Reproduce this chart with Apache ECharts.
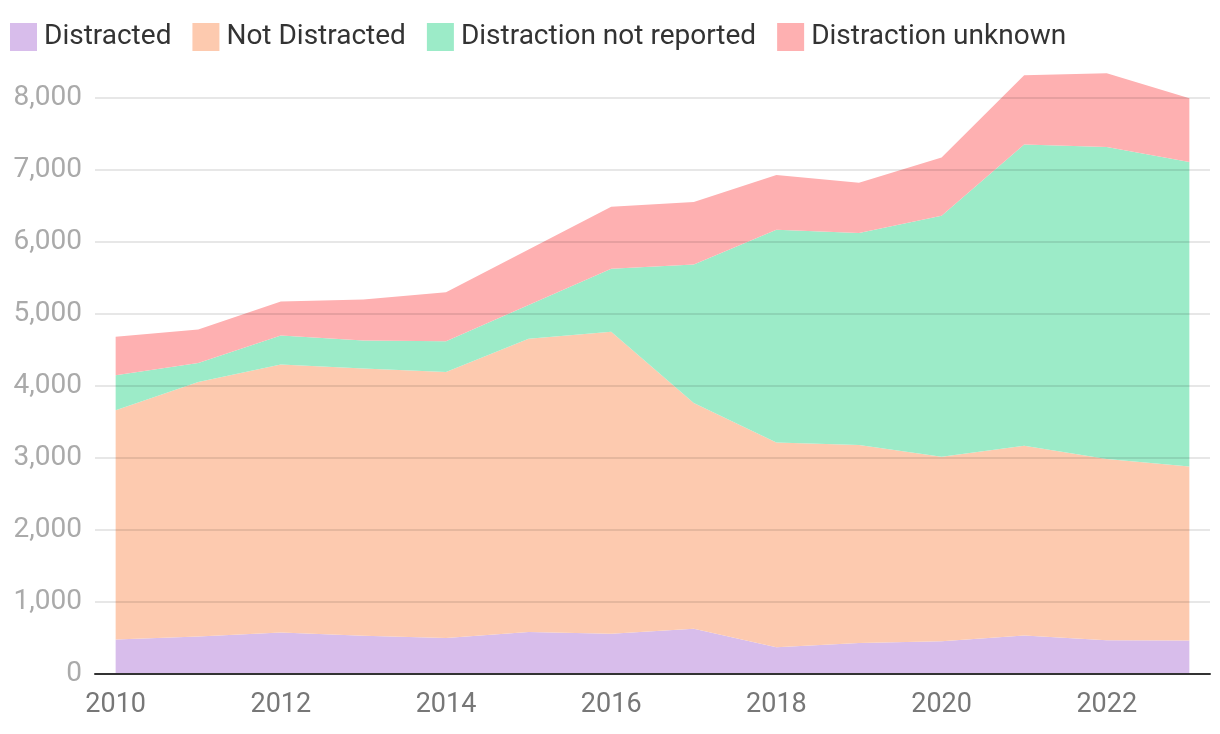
<!DOCTYPE html>
<html>
<head>
<meta charset="utf-8">
<script src="https://cdn.jsdelivr.net/npm/echarts@6/dist/echarts.min.js"></script>
<style>
  html, body { margin: 0; padding: 0; background: #fff; }
  #chart { width: 1220px; height: 734px; }
</style>
</head>
<body>
<div id="chart"></div>
<script>
const years = [2010, 2011, 2012, 2013, 2014, 2015, 2016, 2017, 2018, 2019, 2020, 2021, 2022, 2023];
const distracted = [480, 520, 575, 530, 500, 585, 560, 630, 370, 430, 455, 535, 470, 465];
const notDistracted = [3182, 3537, 3723, 3712, 3696, 4070, 4192, 3135, 2845, 2750, 2563, 2636, 2516, 2418];
const notReported = [487, 264, 403, 389, 426, 470, 876, 1923, 2956, 2944, 3348, 4182, 4334, 4229];
const unknown = [534, 463, 473, 571, 681, 772, 863, 867, 760, 700, 806, 964, 1025, 885];
const xTickLabels = [2010, 2012, 2014, 2016, 2018, 2020, 2022];
const seriesNames = ['Distracted', 'Not Distracted', 'Distraction not reported', 'Distraction unknown'];
const seriesColors = ['#D8BDEB', '#FDCAAF', '#9CEBC8', '#FEB0B1'];

const FONT = 'Roboto, "Noto Sans", sans-serif';
const valuesList = [distracted, notDistracted, notReported, unknown];

const chart = echarts.init(document.getElementById('chart'), null, { renderer: 'canvas' });
chart.setOption({
  animation: false,
  backgroundColor: '#ffffff',
  textStyle: { fontFamily: FONT },
  legend: {
    left: 10,
    top: 23,
    padding: 0,
    itemWidth: 27,
    itemHeight: 28,
    itemGap: 21,
    icon: 'rect',
    textStyle: { fontSize: 28, color: '#333', fontFamily: FONT, padding: [3, 0, 0, 2] },
    data: seriesNames
  },
  grid: { left: 95, right: 10, top: 98, bottom: 60, containLabel: false },
  xAxis: {
    type: 'value',
    min: 2009.75,
    max: 2023.25,
    z: 5,
    axisLine: { show: true, lineStyle: { color: '#333', width: 2 } },
    axisTick: { show: false },
    splitLine: { show: false },
    axisLabel: {
      customValues: xTickLabels,
      formatter: v => String(v),
      fontSize: 27,
      color: '#777',
      margin: 18,
      fontFamily: FONT
    }
  },
  yAxis: {
    type: 'value',
    min: 0,
    max: 8000,
    interval: 1000,
    z: 4,
    axisLine: { show: false },
    axisTick: { show: false },
    splitLine: { show: true, lineStyle: { color: 'rgba(0,0,0,0.13)', width: 1.5 } },
    axisLabel: { fontSize: 28, color: '#aaa', margin: 13, fontFamily: FONT }
  },
  series: seriesNames.map((name, i) => ({
    name: name,
    type: 'line',
    stack: 'total',
    clip: false,
    symbol: 'none',
    showSymbol: false,
    lineStyle: { width: 0 },
    itemStyle: { color: seriesColors[i] },
    areaStyle: { color: seriesColors[i], opacity: 1 },
    encode: { x: 1, y: 0 },
    data: years.map((y, j) => [valuesList[i][j], y])
  }))
});
</script>
</body>
</html>
